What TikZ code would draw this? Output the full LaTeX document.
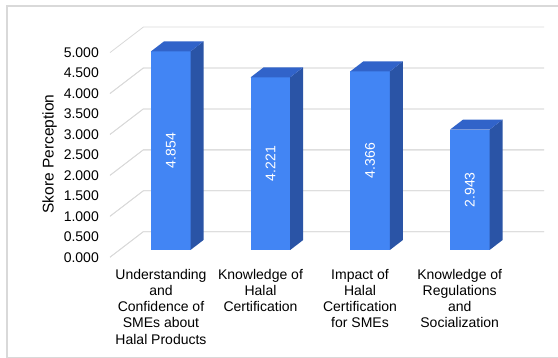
\documentclass[tikz,border=0pt]{standalone}
\usepackage{fontspec}
\setmainfont{Liberation Sans}
\definecolor{barfront}{HTML}{4285F4}
\definecolor{bartop}{HTML}{3163C9}
\definecolor{barside}{HTML}{2A54A6}
\definecolor{gridc}{HTML}{D9D9D9}
\definecolor{framec}{HTML}{D9D9D9}
\begin{document}
\begin{tikzpicture}[x=1pt,y=-1pt,
  txt/.style={font=\fontsize{14}{16.2}\selectfont, inner sep=0pt, text=black},
  ticklab/.style={txt, anchor=east},
  catlab/.style={txt, anchor=north, align=center},
  vallab/.style={txt, text=white, rotate=90},
  gridline/.style={draw=gridc, line width=0.8pt},
  framebox/.style={draw=framec, line width=1.2pt}]
\useasboundingbox (0,0) rectangle (558,358);
\draw[framebox] (7,6) rectangle (570,357.5);
% grid
\foreach \v/\t in {0/0.000,0.5/0.500,1/1.000,1.5/1.500,2/2.000,2.5/2.500,3/3.000,3.5/3.500,4/4.000,4.5/4.500,5/5.000}{
  \coordinate (gb\v) at (143.3,{231.7-\v*40.92});
  \coordinate (ge\v) at (544,{231.7-\v*40.92});
  \coordinate (gf\v) at (110,{257.2-\v*40.92});
  \draw[gridline] (gf\v) -- (gb\v) -- (ge\v);
  \node[ticklab] (t\v) at (99,{257.2-\v*40.92}) {\t};
}
\node[txt, rotate=90, font=\fontsize{15.5}{18}\selectfont] (ytitle) at (49.5,154) {Skore Perception};
% bars
\foreach \i/\L/\val in {1/151/4.854,2/250.7/4.221,3/350.4/4.366,4/450.1/2.943}{
  \pgfmathsetmacro{\top}{250-\val*40.92}
  \fill[barfront] (\L,250) rectangle (\L+39.5,\top);
  \fill[barside] (\L+39.5,250) -- (\L+52.5,240) -- (\L+52.5,\top-10) -- (\L+39.5,\top) -- cycle;
  \fill[bartop] (\L,\top) -- (\L+13,\top-10) -- (\L+52.5,\top-10) -- (\L+39.5,\top) -- cycle;
  \node[vallab] (v\i) at (\L+19.75,{(250+\top)/2}) {\val};
}
% category labels
\node[catlab] (c1) at (161,269) {Understanding\\and\\Confidence of\\SMEs about\\Halal Products};
\node[catlab] (c2) at (260.5,269) {Knowledge of\\Halal\\Certification};
\node[catlab] (c3) at (360,269) {Impact of\\Halal\\Certification\\for SMEs};
\node[catlab] (c4) at (459.7,269) {Knowledge of\\Regulations\\and\\Socialization};
\end{tikzpicture}
\end{document}
